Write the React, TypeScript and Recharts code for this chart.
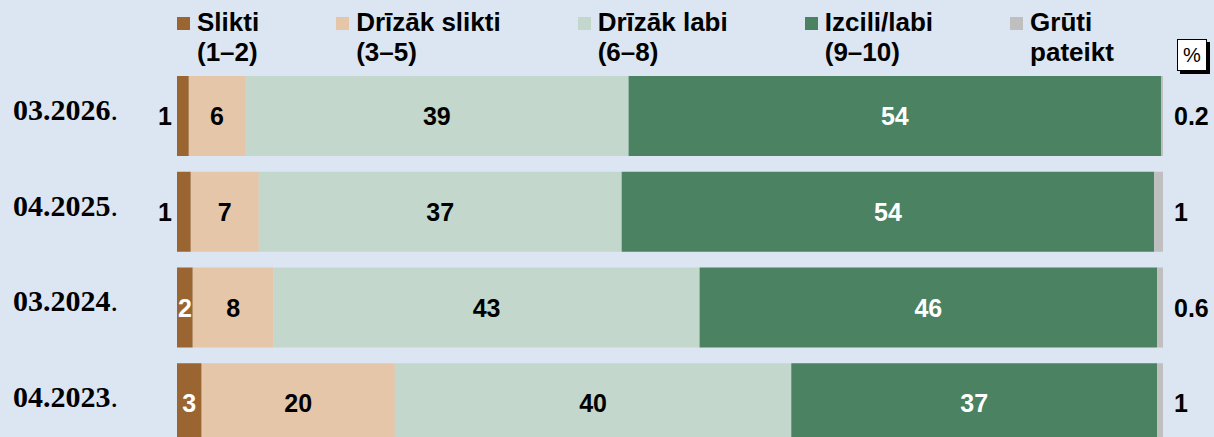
import React from 'react';
import { BarChart, Bar, XAxis, YAxis, LabelList } from 'recharts';

const categories = ['03.2026.', '04.2025.', '03.2024.', '04.2023.'];

// Estimated shares (%)
const slikti = [1.2, 1.4, 1.6, 2.5];
const drizakSlikti = [5.7, 6.9, 8.2, 19.6];
const drizakLabi = [38.9, 36.8, 43.2, 40.2];
const izcili = [54.0, 54.0, 46.4, 37.1];
const gruti = [0.2, 0.9, 0.6, 0.6];

// Printed labels
const sliktiLabels = ['1', '1', '2', '3'];
const drizakSliktiLabels = ['6', '7', '8', '20'];
const drizakLabiLabels = ['39', '37', '43', '40'];
const izciliLabels = ['54', '54', '46', '37'];
const grutiLabels = ['0.2', '1', '0.6', '1'];

const seriesNames = [
  ['Slikti', '(1–2)'],
  ['Drīzāk slikti', '(3–5)'],
  ['Drīzāk labi', '(6–8)'],
  ['Izcili/labi', '(9–10)'],
  ['Grūti', 'pateikt'],
];
const seriesKeys = ['slikti', 'drizakSlikti', 'drizakLabi', 'izcili', 'gruti'];
const colors = ['#9a6531', '#e5c6a9', '#c3d7cc', '#4a8262', '#bfbfbf'];

const data = categories.map((cat, i) => ({
  cat,
  slikti: slikti[i],
  drizakSlikti: drizakSlikti[i],
  drizakLabi: drizakLabi[i],
  izcili: izcili[i],
  gruti: gruti[i],
  sliktiLabel: sliktiLabels[i],
  drizakSliktiLabel: drizakSliktiLabels[i],
  drizakLabiLabel: drizakLabiLabels[i],
  izciliLabel: izciliLabels[i],
  grutiLabel: grutiLabels[i],
}));

const valueFont = {
  fontFamily: '"Liberation Sans", Arial, sans-serif',
  fontWeight: 700,
  fontSize: 25,
};

const makeCenterLabel = (fill: string) => (props: any) => {
  const { x, y, width, height, value } = props;
  return (
    <text
      x={x + width / 2}
      y={y + height / 2}
      textAnchor="middle"
      dominantBaseline="central"
      fill={fill}
      style={valueFont}
    >
      {value}
    </text>
  );
};

const sliktiLabel = (props: any) => {
  const { x, y, width, height, value } = props;
  const outside = width < 15;
  return (
    <text
      x={outside ? x - 5 : x + width / 2}
      y={y + height / 2}
      textAnchor={outside ? 'end' : 'middle'}
      dominantBaseline="central"
      fill={outside ? '#000' : '#fff'}
      style={valueFont}
    >
      {value}
    </text>
  );
};

const grutiLabel = (props: any) => {
  const { x, y, width, height, value } = props;
  return (
    <text
      x={x + width + 11}
      y={y + height / 2}
      textAnchor="start"
      dominantBaseline="central"
      fill="#000"
      style={valueFont}
    >
      {value}
    </text>
  );
};

const CategoryTick = (props: any) => {
  const { y, payload } = props;
  const label: string = payload.value;
  const main = label.endsWith('.') ? label.slice(0, -1) : label;
  return (
    <text
      x={13}
      y={y + 4}
      textAnchor="start"
      fill="#000"
      style={{ fontFamily: '"Liberation Serif", "Times New Roman", serif', fontSize: 30 }}
    >
      <tspan fontWeight={700}>{main}</tspan>
      <tspan fontWeight={400}>{label.endsWith('.') ? '.' : ''}</tspan>
    </text>
  );
};

const labelFns = [
  sliktiLabel,
  makeCenterLabel('#000'),
  makeCenterLabel('#000'),
  makeCenterLabel('#fff'),
  grutiLabel,
];

export default function App() {
  return (
    <div
      style={{
        position: 'absolute',
        left: 0,
        top: 0,
        width: 1214,
        height: 437,
        overflow: 'hidden',
        background: '#dce6f2',
      }}
    >
      <BarChart
        width={1214}
        height={460}
        data={data}
        layout="vertical"
        margin={{ top: 68, right: 51, left: 0, bottom: 9 }}
      >
        <XAxis type="number" domain={[0, 100]} hide />
        <YAxis
          type="category"
          dataKey="cat"
          width={177}
          axisLine={false}
          tickLine={false}
          tick={<CategoryTick />}
          interval={0}
        />
        {seriesKeys.map((k, i) => (
          <Bar
            key={k}
            dataKey={k}
            stackId="a"
            fill={colors[i]}
            barSize={80}
            isAnimationActive={false}
          >
            <LabelList dataKey={`${k}Label`} content={labelFns[i]} />
          </Bar>
        ))}
      </BarChart>

      <div
        style={{
          position: 'absolute',
          left: 177,
          top: 7,
          display: 'flex',
          gap: 77,
          fontFamily: '"Liberation Sans", Arial, sans-serif',
          fontWeight: 700,
          fontSize: 26,
          lineHeight: '30px',
          color: '#000',
          whiteSpace: 'nowrap',
        }}
      >
        {seriesNames.map((n, i) => (
          <div key={i} style={{ display: 'flex', alignItems: 'flex-start' }}>
            <div
              style={{
                width: 13,
                height: 13,
                marginTop: 10,
                marginRight: 7,
                background: colors[i],
              }}
            />
            <div>
              <div>{n[0]}</div>
              <div>{n[1]}</div>
            </div>
          </div>
        ))}
      </div>

      <div
        style={{
          position: 'absolute',
          left: 1177,
          top: 39,
          width: 28,
          height: 30,
          background: '#fff',
          border: '1px solid #000',
          boxShadow: '3px 3px 0 #000',
          fontFamily: '"Liberation Sans", Arial, sans-serif',
          fontSize: 20,
          lineHeight: '30px',
          textAlign: 'center',
          color: '#000',
        }}
      >
        %
      </div>
    </div>
  );
}
